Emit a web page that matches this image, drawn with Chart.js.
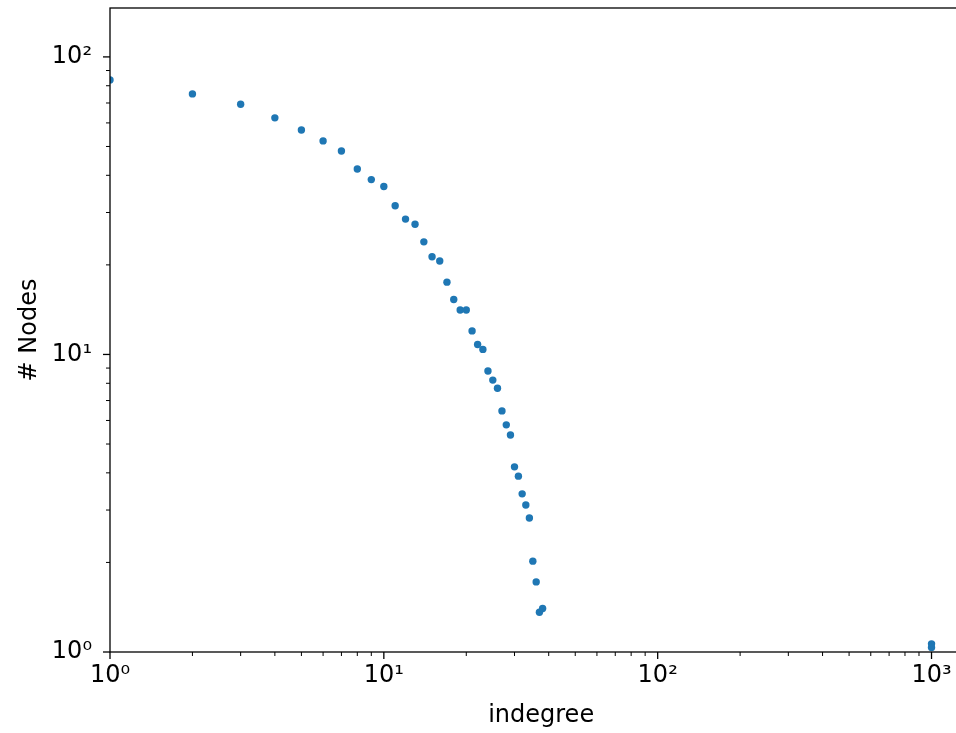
<!DOCTYPE html>
<html>
<head>
<meta charset="utf-8">
<script src="https://cdn.jsdelivr.net/npm/chart.js@4.4.1/dist/chart.umd.min.js"></script>
<style>
    html, body { margin: 0; padding: 0; background: #fff; overflow: hidden; }
    /* the original figure is cut off on the right, so the canvas runs past the window */
    #wrap { width: 956px; height: 733px; overflow: hidden; }
</style>
</head>
<body>
<div id="wrap"><canvas id="degreeChart" width="976" height="733"></canvas></div>
<script>
// indegree distribution
const indegree = [1, 2, 3, 4, 5, 6, 7, 8, 9, 10,
    11, 12, 13, 14, 15, 16, 17, 18, 19, 20,
    21, 22, 23, 24, 25, 26, 27, 28, 29, 30,
    31, 32, 33, 34, 35, 36, 37, 38, 1000, 1000];
const nodeCounts = [83.7, 75.1, 69.3, 62.4, 56.8, 52.2, 48.3, 42.0, 38.7, 36.7,
    31.6, 28.5, 27.4, 23.9, 21.3, 20.6, 17.5, 15.3, 14.1, 14.1,
    12.0, 10.8, 10.4, 8.8, 8.2, 7.7, 6.46, 5.8, 5.36, 4.19,
    3.9, 3.40, 3.12, 2.82, 2.02, 1.72, 1.36, 1.40, 1.065, 1.035];

const xMajorTicks = [1, 10, 100, 1000];
const xTickLabels = ['10⁰', '10¹', '10²', '10³'];
const yMajorTicks = [1, 10, 100];
const yTickLabels = ['10⁰', '10¹', '10²'];

const xLimits = [1, 1409];
const yLimits = [1, 146];

const fontFamily = "'DejaVu Sans', sans-serif";
const fontSize = 24;

// major + minor log ticks inside the limits
function logTicks(majors, min, max) {
    let list = [];
    majors.forEach(function (m) {
        for (let k = 1; k <= 9; k++) {
            let v = m * k;
            if (v >= min && v <= max) {
                list.push({ value: v, major: k === 1 });
            }
        }
    });
    return list;
}

function labelFor(majors, labels) {
    return function (value) {
        let i = majors.indexOf(value);
        return i >= 0 ? labels[i] : '';
    };
}

// matplotlib-like frame and outward ticks
const frameAndTicks = {
    id: 'frameAndTicks',
    afterDatasetsDraw(chart) {
        const ctx = chart.ctx;
        const a = chart.chartArea;
        const xs = chart.scales.x;
        const ys = chart.scales.y;
        ctx.save();
        ctx.strokeStyle = '#000';
        xs.ticks.forEach(function (t) {
            let px = xs.getPixelForValue(t.value);
            ctx.lineWidth = t.major ? 1.3 : 1;
            ctx.beginPath();
            ctx.moveTo(px, a.bottom);
            ctx.lineTo(px, a.bottom + (t.major ? 7 : 4));
            ctx.stroke();
        });
        ys.ticks.forEach(function (t) {
            let py = ys.getPixelForValue(t.value);
            ctx.lineWidth = t.major ? 1.3 : 1;
            ctx.beginPath();
            ctx.moveTo(a.left, py);
            ctx.lineTo(a.left - (t.major ? 7 : 4), py);
            ctx.stroke();
        });
        ctx.lineWidth = 1.3;
        ctx.strokeRect(a.left, a.top, a.right - a.left, a.bottom - a.top);
        ctx.restore();
    }
};

const points = indegree.map(function (x, i) {
    return { x: x, y: nodeCounts[i] };
});

const ctx = document.getElementById('degreeChart').getContext('2d');
const chart = new Chart(ctx, {
    type: 'scatter',
    data: {
        datasets: [{
            data: points,
            backgroundColor: '#1f77b4',
            borderWidth: 0,
            pointRadius: 3.7,
            pointHoverRadius: 3.7,
            clip: 0
        }]
    },
    options: {
        responsive: false,
        animation: false,
        devicePixelRatio: 1,
        layout: { padding: { top: 8, right: 1, left: 0, bottom: 0 } },
        plugins: {
            legend: { display: false },
            tooltip: { enabled: false }
        },
        scales: {
            x: {
                type: 'logarithmic',
                min: xLimits[0],
                max: xLimits[1],
                afterBuildTicks: function (scale) {
                    scale.ticks = logTicks(xMajorTicks, xLimits[0], xLimits[1]);
                },
                afterFit: function (scale) {
                    scale.height = 81;
                    scale.paddingLeft = 0;
                    scale.paddingRight = 0;
                },
                grid: { color: 'transparent', drawOnChartArea: false, tickLength: 7 },
                border: { display: false },
                ticks: {
                    autoSkip: false,
                    maxRotation: 0,
                    padding: 2,
                    color: '#000',
                    font: { family: fontFamily, size: fontSize },
                    callback: labelFor(xMajorTicks, xTickLabels)
                },
                title: {
                    display: true,
                    text: 'indegree',
                    color: '#000',
                    font: { family: fontFamily, size: fontSize },
                    padding: { top: 0, bottom: 3 }
                }
            },
            y: {
                type: 'logarithmic',
                min: yLimits[0],
                max: yLimits[1],
                afterBuildTicks: function (scale) {
                    scale.ticks = logTicks(yMajorTicks, yLimits[0], yLimits[1]);
                },
                afterFit: function (scale) {
                    scale.width = 110;
                    scale.paddingTop = 0;
                    scale.paddingBottom = 0;
                },
                grid: { color: 'transparent', drawOnChartArea: false, tickLength: 7 },
                border: { display: false },
                ticks: {
                    autoSkip: false,
                    padding: 11,
                    color: '#000',
                    font: { family: fontFamily, size: fontSize },
                    callback: labelFor(yMajorTicks, yTickLabels)
                },
                title: {
                    display: true,
                    text: '# Nodes',
                    color: '#000',
                    font: { family: fontFamily, size: fontSize },
                    padding: { top: 15, bottom: 0 }
                }
            }
        }
    },
    plugins: [frameAndTicks]
});
</script>
</body>
</html>
